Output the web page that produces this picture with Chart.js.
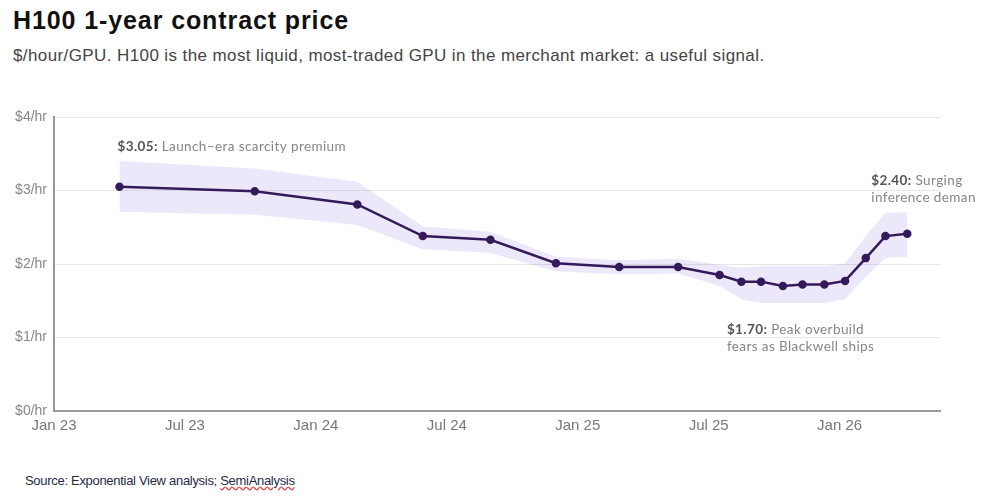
<!DOCTYPE html>
<html>
<head>
<meta charset="utf-8">
<script src="https://cdn.jsdelivr.net/npm/chart.js@4.4.1/dist/chart.umd.min.js"></script>
<style>
  body { margin: 0; background: #fff; width: 982px; height: 504px; overflow: hidden; position: relative; }
  #title { position: absolute; left: 13px; top: 6px; font: bold 25px "Liberation Sans", Arial, sans-serif; letter-spacing: 0.9px; color: #111; }
  #sub { position: absolute; left: 13px; top: 46px; font: 17px "Liberation Sans", Arial, sans-serif; letter-spacing: 0.4px; color: #444; }
  #src { position: absolute; left: 25px; top: 473px; font: 13px "Liberation Sans", Arial, sans-serif; letter-spacing: -0.3px; color: #1f2a48; }
  #src span { text-decoration: underline wavy #e05050; }
  #wrap { position: absolute; left: 0; top: 100px; width: 976px; height: 345px; }
</style>
</head>
<body>
<div id="title">H100 1-year contract price</div>
<div id="sub">$/hour/GPU. H100 is the most liquid, most-traded GPU in the merchant market: a useful signal.</div>
<div id="wrap"><canvas id="myChart"></canvas></div>
<div id="src">Source: Exponential View analysis; <span>SemiAnalysis</span></div>
<script>
// months since Jan 2023
const months = [3.0, 9.2, 13.9, 16.9, 20.0, 23.0, 25.9, 28.6, 30.5, 31.5, 32.4, 33.4, 34.3, 35.3, 36.25, 37.2, 38.1, 39.1];
// $/hr
const prices = [3.05, 2.99, 2.81, 2.38, 2.33, 2.01, 1.96, 1.96, 1.85, 1.76, 1.76, 1.70, 1.72, 1.72, 1.77, 2.08, 2.38, 2.41];
// shaded range around the line
const bandHigh = [3.40, 3.30, 3.12, 2.51, 2.44, 2.10, 2.05, 2.07, 1.99, 1.95, 1.97, 1.97, 1.97, 1.97, 2.01, 2.38, 2.70, 2.70];
const bandLow = [2.71, 2.67, 2.53, 2.20, 2.15, 1.90, 1.86, 1.87, 1.70, 1.52, 1.47, 1.47, 1.47, 1.47, 1.52, 1.83, 2.08, 2.10];

const tickMonths = [0, 6, 12, 18, 24, 30, 36];
const tickLabels = ["Jan 23", "Jul 23", "Jan 24", "Jul 24", "Jan 25", "Jul 25", "Jan 26"];

// callouts: which point, pixel offset of the text, bold value, text lines
const notes = [
  { idx: 0, dx: -2, dy: -40, value: "$3.05:", lines: [" Launch–era scarcity premium"] },
  { idx: 11, dx: -56, dy: 44, value: "$1.70:", lines: [" Peak overbuild", "fears as Blackwell ships"] },
  { idx: 17, dx: -36, dy: -53, value: "$2.40:", lines: [" Surging", "inference demand"] }
];

function toPoints(vals) {
  return months.map(function (m, i) { return { x: m, y: vals[i] }; });
}

// draws the text callouts next to their points
const notePlugin = {
  id: "notes",
  afterDatasetsDraw: function (chart) {
    const c = chart.ctx;
    const xs = chart.scales.x;
    const ys = chart.scales.y;
    c.save();
    c.textBaseline = "middle";
    c.letterSpacing = "0.4px";
    notes.forEach(function (n) {
      let x = xs.getPixelForValue(months[n.idx]) + n.dx;
      let y = ys.getPixelForValue(prices[n.idx]) + n.dy;
      c.font = "bold 13.5px Lato, sans-serif";
      c.fillStyle = "#555";
      c.fillText(n.value, x, y);
      let w = c.measureText(n.value).width;
      c.font = "13.5px Lato, sans-serif";
      c.fillStyle = "#858585";
      c.fillText(n.lines[0], x + w, y);
      for (let i = 1; i < n.lines.length; i++) {
        c.fillText(n.lines[i], x, y + 17 * i);
      }
    });
    c.restore();
  }
};

const ctx = document.getElementById("myChart");
new Chart(ctx, {
  type: "line",
  data: {
    datasets: [
      {
        label: "H100",
        data: toPoints(prices),
        borderColor: "#341a5a",
        backgroundColor: "#341a5a",
        borderWidth: 2.5,
        pointRadius: 3,
        pointHoverRadius: 3,
        fill: false,
        tension: 0
      },
      {
        label: "high",
        data: toPoints(bandHigh),
        borderWidth: 0,
        pointRadius: 0,
        fill: false
      },
      {
        label: "low",
        data: toPoints(bandLow),
        borderWidth: 0,
        pointRadius: 0,
        backgroundColor: "rgba(150,130,230,0.18)",
        fill: "-1"
      }
    ]
  },
  options: {
    responsive: true,
    maintainAspectRatio: false,
    animation: false,
    layout: { padding: { top: 17, right: 36, left: 0, bottom: 0 } },
    plugins: { legend: { display: false }, tooltip: { enabled: false } },
    scales: {
      x: {
        type: "linear",
        min: 0,
        max: 40.6,
        afterFit: function (s) { s.height = 34; },
        afterBuildTicks: function (s) { s.ticks = tickMonths.map(function (v) { return { value: v }; }); },
        grid: { display: false, drawTicks: false },
        border: { display: true, color: "#9a9a9a", width: 2 },
        ticks: {
          padding: 6,
          maxRotation: 0,
          color: "#777",
          font: { family: "'Liberation Sans', Arial", size: 15 },
          callback: function (v) {
            let i = tickMonths.indexOf(v);
            return i >= 0 ? tickLabels[i] : "";
          }
        }
      },
      y: {
        min: 0,
        max: 4,
        afterFit: function (s) { s.width = 54; },
        grid: { color: "#e6e6e6", drawTicks: false },
        border: { display: true, color: "#9a9a9a", width: 2 },
        ticks: {
          stepSize: 1,
          padding: 7,
          color: "#888",
          font: { family: "'Liberation Sans', Arial", size: 14 },
          callback: function (v) { return "$" + v + "/hr"; }
        }
      }
    }
  },
  plugins: [notePlugin]
});
</script>
</body>
</html>
